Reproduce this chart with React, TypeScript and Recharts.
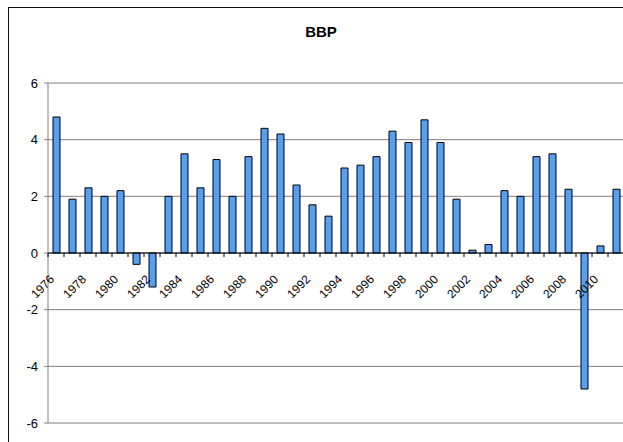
import React from 'react'
import { BarChart, Bar, XAxis, YAxis, CartesianGrid, ReferenceLine } from 'recharts'

const years = [
  '1976', '1977', '1978', '1979', '1980', '1981', '1982', '1983', '1984', '1985',
  '1986', '1987', '1988', '1989', '1990', '1991', '1992', '1993', '1994', '1995',
  '1996', '1997', '1998', '1999', '2000', '2001', '2002', '2003', '2004', '2005',
  '2006', '2007', '2008', '2009', '2010', '2011',
]
const bbp = [
  4.8, 1.9, 2.3, 2.0, 2.2, -0.4, -1.2, 2.0, 3.5, 2.3,
  3.3, 2.0, 3.4, 4.4, 4.2, 2.4, 1.7, 1.3, 3.0, 3.1,
  3.4, 4.3, 3.9, 4.7, 3.9, 1.9, 0.1, 0.3, 2.2, 2.0,
  3.4, 3.5, 2.25, -4.8, 0.25, 2.25,
]
const yTicks = [-6, -4, -2, 0, 2, 4, 6]

const data = years.map((year, i) => ({ year, value: bbp[i] }))

const PLOT_TOP = 83
const PLOT_H = 340
const Y_MIN = -6
const Y_MAX = 6
const PLOT_BOTTOM = PLOT_TOP + PLOT_H
const ZERO_Y = PLOT_TOP + (PLOT_H * Y_MAX) / (Y_MAX - Y_MIN)
const BAND = 16

const font = 'Arial, "Liberation Sans", sans-serif'

// labels sit on the zero line, not at the bottom of the plot
function YearTick(props: any) {
  const { x, index, payload } = props
  const lx = x - 1
  const ly = ZERO_Y + 27
  return (
    <g>
      <line x1={x - BAND / 2} y1={ZERO_Y} x2={x - BAND / 2} y2={ZERO_Y + 4} stroke="#000" />
      {index % 2 === 0 && (
        <g transform={`translate(${lx} ${ly}) rotate(-45)`}>
          <text x={0} y={0} textAnchor="end" fontSize={12} fontFamily={font} fill="#000">
            {payload.value}
          </text>
        </g>
      )}
    </g>
  )
}

export default function App() {
  return (
    <div
      style={{
        position: 'absolute',
        left: 0,
        top: 0,
        width: 623,
        height: 442,
        overflow: 'hidden',
        background: '#fff',
      }}
    >
      <div
        style={{
          position: 'absolute',
          left: 8,
          top: 7,
          width: 700,
          height: 500,
          border: '1.5px solid #111',
        }}
      />
      <div
        style={{
          position: 'absolute',
          left: 0,
          width: 642,
          top: 23,
          textAlign: 'center',
          fontFamily: font,
          fontWeight: 'bold',
          fontSize: 15,
        }}
      >
        BBP
      </div>
      <div style={{ position: 'absolute', left: 0, top: 0 }}>
        <BarChart
          width={640}
          height={442}
          data={data}
          margin={{ top: PLOT_TOP, right: 16, bottom: 442 - PLOT_BOTTOM - 10, left: 0 }}
        >
          <CartesianGrid vertical={false} stroke="#808080" />
          <YAxis
            domain={[Y_MIN, Y_MAX]}
            ticks={yTicks}
            width={48}
            stroke="#808080"
            tickSize={4}
            tickMargin={6}
            tick={{ fill: '#000', fontSize: 13, fontFamily: font }}
            interval={0}
          />
          <XAxis
            dataKey="year"
            height={10}
            axisLine={false}
            tickLine={false}
            interval={0}
            tick={<YearTick />}
          />
          <ReferenceLine y={0} stroke="#000" />
          <Bar
            dataKey="value"
            fill="#55a0f0"
            stroke="#000"
            strokeWidth={1}
            barSize={7}
            isAnimationActive={false}
          />
        </BarChart>
      </div>
    </div>
  )
}
